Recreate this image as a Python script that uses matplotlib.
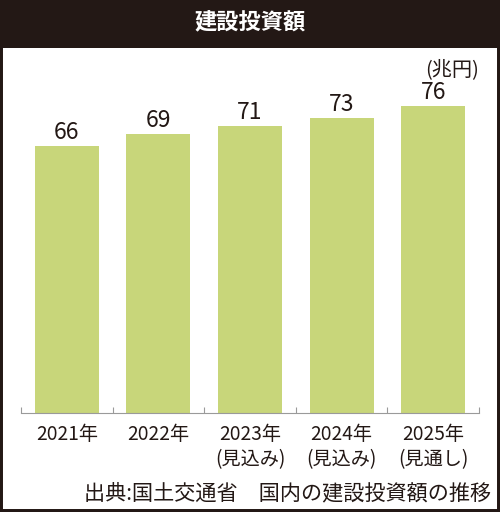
import matplotlib
matplotlib.use("Agg")
import matplotlib.pyplot as plt
from matplotlib.patches import Rectangle

plt.rcParams['font.family'] = ['Noto Sans CJK JP', 'DejaVu Sans']

# データ（兆円）
years = ['2021年', '2022年', '2023年\n(見込み)', '2024年\n(見込み)', '2025年\n(見通し)']
values = [66, 69, 71, 73, 76]

title = '建設投資額'
unit = '(兆円)'
source = '出典:国土交通省　国内の建設投資額の推移'

dark = '#231815'
green = '#c8d67a'

fig = plt.figure(figsize=(5.0, 5.12), dpi=100)
fig.patch.set_facecolor('white')

# ヘッダー帯
fig.add_artist(Rectangle((0, 1 - 48 / 512), 1, 48 / 512, transform=fig.transFigure,
                         facecolor=dark, edgecolor='none', zorder=0))
fig.text(0.5, 1 - 23 / 512, title, color='white', fontsize=16, fontweight='bold',
         ha='center', va='center')

ax = fig.add_axes([21 / 500, 99 / 512, 458 / 500, 353 / 512])
x = range(len(values))
bars = ax.bar(x, values, width=0.7, color=green)
ax.set_xlim(-0.5, len(values) - 0.5)
ax.set_ylim(0, 353 / 4.04)

for b, v in zip(bars, values):
    ax.annotate(str(v), (b.get_x() + b.get_width() / 2, v), xytext=(0, 1.5),
                textcoords='offset points', ha='center', va='bottom',
                fontsize=16.5, color=dark)

for s in ['top', 'right', 'left']:
    ax.spines[s].set_visible(False)
ax.spines['bottom'].set_color('#9a9a9a')
ax.spines['bottom'].set_linewidth(0.8)
ax.set_yticks([])
ax.set_xticks(list(x))
ax.set_xticklabels(years, fontsize=13.8, color=dark, linespacing=1.22)
ax.tick_params(axis='x', which='major', length=0, pad=8)
ax.set_xticks([i - 0.5 for i in range(len(values) + 1)], minor=True)
ax.tick_params(axis='x', which='minor', direction='in', length=4, color='#9a9a9a', width=0.8)

fig.text(479 / 500, 1 - 70 / 512, unit, fontsize=14.5, color=dark, ha='right', va='center')
fig.text(491 / 500, 1 - 493 / 512, source, fontsize=15.2, color=dark, ha='right', va='center')

# 外枠
fig.add_artist(Rectangle((0, 0), 1, 1, transform=fig.transFigure, fill=False,
                         edgecolor=dark, linewidth=4.3, zorder=10))

fig.savefig('out.png', dpi=100)
